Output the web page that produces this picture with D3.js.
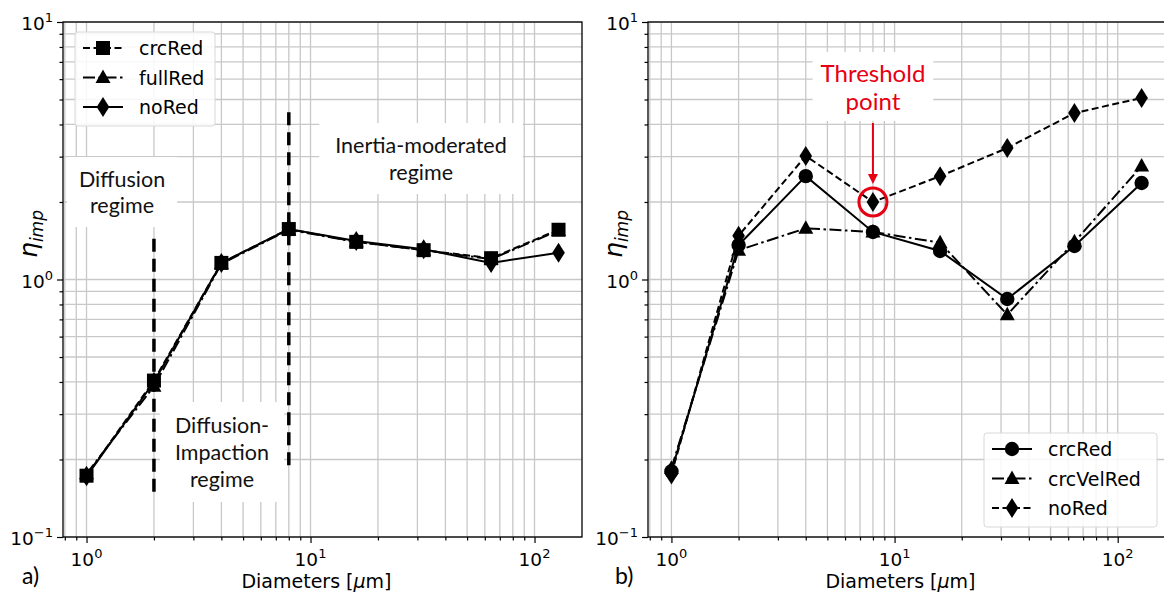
<!DOCTYPE html>
<html>
<head>
<meta charset="utf-8">
<script src="https://cdn.jsdelivr.net/npm/d3@7"></script>
<style>
body { margin: 0; background: #fff; }
svg { font-family: "DejaVu Sans", sans-serif; }
.note { font-family: Lato, "Open Sans", sans-serif; }
</style>
</head>
<body>
<svg id="chart" width="1164" height="597"></svg>
<script>
// particle diameters [um]
const diameters = [1, 2, 4, 8, 16, 32, 64, 128];

// panel a)
const aCrcRed  = [0.173, 0.405, 1.16, 1.57, 1.40, 1.30, 1.21, 1.56];
const aFullRed = [0.176, 0.385, 1.15, 1.56, 1.40, 1.30, 1.20, 1.55];
const aNoRed   = [0.172, 0.400, 1.16, 1.57, 1.41, 1.31, 1.16, 1.27];

// panel b)
const bCrcRed    = [0.180, 1.36, 2.52, 1.53, 1.29, 0.84, 1.35, 2.37];
const bCrcVelRed = [0.185, 1.30, 1.58, 1.53, 1.39, 0.73, 1.40, 2.76];
const bNoRed     = [0.175, 1.48, 3.02, 2.00, 2.52, 3.24, 4.43, 5.07];

// regime borders in panel a) (x, y from, y to)
const regimeX    = [2, 8];
const regimeFrom = [0.15, 0.19];
const regimeTo   = [1.5, 4.5];

// tick labels
const xTicks = [1, 10, 100];
const xExp   = ["0", "1", "2"];
const yTicks = [0.1, 1, 10];
const yExp   = ["\u22121", "0", "1"];

const svg = d3.select("#chart");
const plotTop = 22, plotBottom = 537;
const gridColor = "#c8c8c8";
const red = "#e60012";

const dashes = { solid: null, dashed: "7,3.5", dashdot: "12,3.5,2.5,3.5" };

function minorValues(lo, hi) {
    const out = [];
    for (let e = -2; e <= 3; e++) {
        for (let k = 2; k <= 9; k++) {
            const v = k * Math.pow(10, e);
            if (v > lo && v < hi) out.push(v);
        }
    }
    return out;
}

function marker(g, type, cx, cy) {
    if (type === "square") {
        g.append("rect").attr("x", cx - 7).attr("y", cy - 7)
            .attr("width", 14).attr("height", 14).attr("fill", "#000");
    } else if (type === "triangle") {
        g.append("path").attr("d", `M${cx},${cy - 8} L${cx + 7.5},${cy + 5.5} L${cx - 7.5},${cy + 5.5} Z`)
            .attr("fill", "#000");
    } else if (type === "diamond") {
        g.append("path").attr("d", `M${cx},${cy - 10} L${cx + 6.3},${cy} L${cx},${cy + 10} L${cx - 6.3},${cy} Z`)
            .attr("fill", "#000");
    } else {
        g.append("circle").attr("cx", cx).attr("cy", cy).attr("r", 7.2).attr("fill", "#000");
    }
}

function drawPanel(p) {
    const x = d3.scaleLog().domain([Math.pow(10, -0.105), Math.pow(10, 2.212)]).range([p.left, p.right]);
    const y = d3.scaleLog().domain([0.1, 10]).range([plotBottom, plotTop]);
    const g = svg.append("g");
    const xMinor = minorValues(x.domain()[0], x.domain()[1]);
    const yMinor = minorValues(0.1, 10);

    // grid
    const grid = g.append("g").attr("stroke", gridColor).attr("stroke-width", 1.3);
    xTicks.concat(xMinor).filter(v => v > x.domain()[0] && v < x.domain()[1]).forEach(v => {
        grid.append("line").attr("x1", x(v)).attr("x2", x(v)).attr("y1", plotTop).attr("y2", plotBottom);
    });
    yTicks.concat(yMinor).forEach(v => {
        grid.append("line").attr("x1", p.left).attr("x2", p.right).attr("y1", y(v)).attr("y2", y(v));
    });

    // data lines and markers
    const line = d3.line().x(d => x(d[0])).y(d => y(d[1]));
    p.series.forEach(s => {
        const pts = diameters.map((d, i) => [d, s.values[i]]);
        g.append("path").datum(pts).attr("d", line)
            .attr("fill", "none").attr("stroke", "#000").attr("stroke-width", 2)
            .attr("stroke-dasharray", dashes[s.style]);
        const mg = g.append("g");
        pts.forEach(pt => marker(mg, s.marker, x(pt[0]), y(pt[1])));
    });

    if (p.extra) p.extra(g, x, y);

    // frame
    g.append("rect").attr("x", p.left).attr("y", plotTop)
        .attr("width", p.right - p.left).attr("height", plotBottom - plotTop)
        .attr("fill", "none").attr("stroke", "#000").attr("stroke-width", 1.3);

    // axes
    g.append("g").attr("transform", `translate(0,${plotBottom})`)
        .call(d3.axisBottom(x).tickValues(xTicks).tickSize(6).tickFormat(""));
    g.append("g").attr("transform", `translate(0,${plotBottom})`)
        .call(d3.axisBottom(x).tickValues(xMinor).tickSize(3.5).tickFormat(""));
    g.append("g").attr("transform", `translate(${p.left},0)`)
        .call(d3.axisLeft(y).tickValues(yTicks).tickSize(6).tickFormat(""));
    g.append("g").attr("transform", `translate(${p.left},0)`)
        .call(d3.axisLeft(y).tickValues(yMinor).tickSize(3.5).tickFormat(""));
    g.selectAll(".domain").remove();
    g.selectAll(".tick line").attr("stroke", "#000").attr("stroke-width", 1.2);

    xTicks.forEach((v, i) => {
        const t = g.append("text").attr("x", x(v)).attr("y", 566)
            .attr("text-anchor", "middle").attr("font-size", 18.5).attr("fill", "#000");
        t.append("tspan").text("10");
        t.append("tspan").attr("dy", -8).attr("font-size", 13).text(xExp[i]);
    });
    yTicks.forEach((v, i) => {
        const t = g.append("text").attr("x", p.left - 10).attr("y", y(v) + 8)
            .attr("text-anchor", "end").attr("font-size", 18.5).attr("fill", "#000");
        t.append("tspan").text("10");
        t.append("tspan").attr("dy", -8).attr("font-size", 13).text(yExp[i]);
    });

    // axis titles
    const xl = g.append("text").attr("x", (p.left + p.right) / 2 - 6).attr("y", 588)
        .attr("text-anchor", "middle").attr("font-size", 19);
    xl.append("tspan").text("Diameters [");
    xl.append("tspan").attr("font-style", "italic").text("\u03bc");
    xl.append("tspan").text("m]");

    const yl = g.append("text").attr("transform", `translate(${p.left - 26},234) rotate(-90)`)
        .attr("text-anchor", "middle").attr("font-style", "italic").attr("font-size", 25);
    yl.append("tspan").text("\u03b7");
    yl.append("tspan").attr("dy", 6).attr("font-size", 17).text("imp");

    g.append("text").attr("class", "note").attr("x", p.tagX).attr("y", 584)
        .attr("font-size", 23).text(p.tag);

    // legend
    const lg = g.append("g").attr("transform", `translate(${p.legX},${p.legY})`);
    lg.append("rect").attr("width", p.legW).attr("height", 94).attr("rx", 3)
        .attr("fill", "#fff").attr("fill-opacity", 0.85).attr("stroke", "#d8d8d8");
    p.series.forEach((s, i) => {
        const cy = 16 + i * 29.5;
        lg.append("line").attr("x1", 8).attr("x2", 48).attr("y1", cy).attr("y2", cy)
            .attr("stroke", "#000").attr("stroke-width", 2).attr("stroke-dasharray", dashes[s.style]);
        marker(lg, s.marker, 28, cy);
        lg.append("text").attr("x", 64).attr("y", cy + 7).attr("font-size", 19).text(s.name);
    });
}

// white boxed annotation text
function noteBox(g, cx, baselines, lines, size, color, padX, padY) {
    const box = g.append("rect").attr("fill", "#fff");
    const t = g.append("text").attr("class", "note").attr("text-anchor", "middle")
        .attr("font-size", size).attr("fill", color);
    lines.forEach((s, i) => t.append("tspan").attr("x", cx).attr("y", baselines[i]).text(s));
    const bb = t.node().getBBox();
    box.attr("x", bb.x - padX).attr("y", bb.y - padY)
        .attr("width", bb.width + 2 * padX).attr("height", bb.height + 2 * padY);
}

drawPanel({
    left: 63, right: 582, tag: "a)", tagX: 22,
    legX: 75, legY: 32, legW: 140,
    series: [
        { name: "crcRed", values: aCrcRed, style: "dashed", marker: "square" },
        { name: "fullRed", values: aFullRed, style: "dashdot", marker: "triangle" },
        { name: "noRed", values: aNoRed, style: "solid", marker: "diamond" }
    ],
    extra: (g, x, y) => {
        regimeX.forEach((v, i) => {
            g.append("line").attr("x1", x(v)).attr("x2", x(v))
                .attr("y1", y(regimeFrom[i])).attr("y2", y(regimeTo[i]))
                .attr("stroke", "#000").attr("stroke-width", 3.5).attr("stroke-dasharray", "13,7");
        });
        noteBox(g, 122, [187, 213], ["Diffusion", "regime"], 21.5, "#111", 12, 9);
        noteBox(g, 222, [433, 460, 487], ["Diffusion-", "Impaction", "regime"], 21.5, "#111", 15, 10);
        noteBox(g, 421, [153, 180], ["Inertia-moderated", "regime"], 21.5, "#111", 16, 9);
    }
});

drawPanel({
    left: 648, right: 1165, tag: "b)", tagX: 615,
    legX: 984, legY: 433, legW: 173,
    series: [
        { name: "crcRed", values: bCrcRed, style: "solid", marker: "circle" },
        { name: "crcVelRed", values: bCrcVelRed, style: "dashdot", marker: "triangle" },
        { name: "noRed", values: bNoRed, style: "dashed", marker: "diamond" }
    ],
    extra: (g, x, y) => {
        const tx = x(diameters[3]), ty = y(bNoRed[3]);
        noteBox(g, tx, [82, 110], ["Threshold", "point"], 24, red, 8, 6);
        g.append("circle").attr("cx", tx).attr("cy", ty).attr("r", 14)
            .attr("fill", "none").attr("stroke", red).attr("stroke-width", 3);
        g.append("line").attr("x1", tx).attr("x2", tx).attr("y1", 123).attr("y2", ty - 26)
            .attr("stroke", red).attr("stroke-width", 2);
        g.append("path").attr("d", `M${tx - 5},${ty - 28} L${tx + 5},${ty - 28} L${tx},${ty - 18} Z`)
            .attr("fill", red);
    }
});
</script>
</body>
</html>
